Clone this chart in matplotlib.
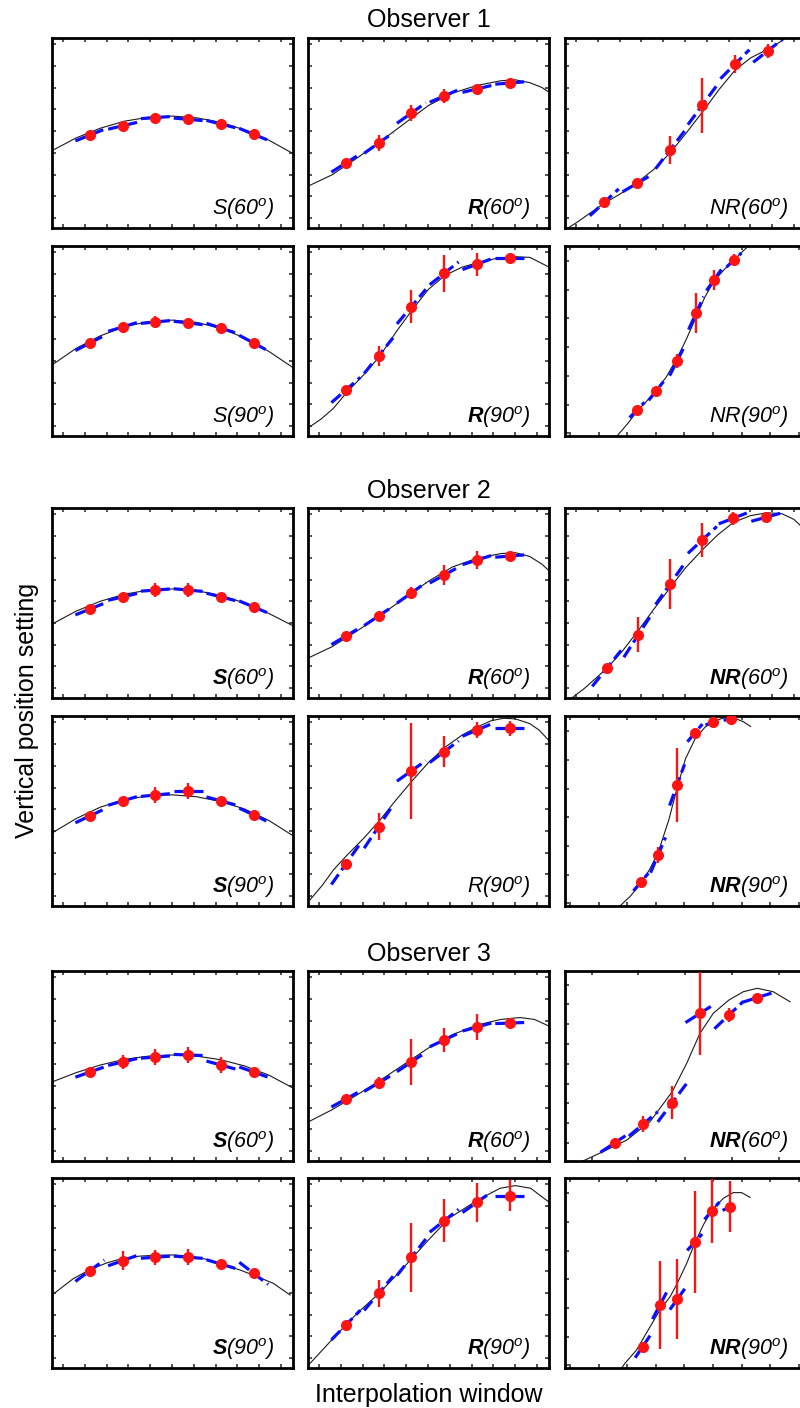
import matplotlib
matplotlib.use("Agg")
import matplotlib.pyplot as plt
import numpy as np

plt.rcParams['font.family'] = ['Liberation Sans', 'DejaVu Sans']
plt.rcParams['mathtext.fontset'] = 'custom'
plt.rcParams['mathtext.rm'] = 'Liberation Sans:italic'
plt.rcParams['mathtext.it'] = 'Liberation Sans:italic'
plt.rcParams['mathtext.sf'] = 'Liberation Sans:italic'
plt.rcParams['mathtext.bf'] = 'Liberation Sans:bold:italic'

# ---------------- data (panel-fraction units) ----------------
OBSERVERS = ["Observer 1", "Observer 2", "Observer 3"]
CONDITIONS = ["S", "R", "NR"]
ANGLES = ["60", "90"]
X_LABEL = "Interpolation window"
Y_LABEL = "Vertical position setting"

X_STD = [0.157, 0.293, 0.429, 0.565, 0.701, 0.837]

# Observer 1
O1_S60_Y = [0.489, 0.538, 0.581, 0.572, 0.547, 0.493]
O1_S60_ERR = [0.01, 0.01, 0.012, 0.01, 0.01, 0.01]
O1_S60_SLOPE = [0.51, 0.30, 0.09, -0.11, -0.32, -0.52]
O1_S60_CURVE = [(0.0, 0.407), (0.1, 0.474), (0.2, 0.525), (0.3, 0.562), (0.4, 0.583), (0.5, 0.589),
                (0.6, 0.580), (0.7, 0.556), (0.8, 0.516), (0.9, 0.462), (1.0, 0.392)]

O1_R60_Y = [0.342, 0.447, 0.605, 0.695, 0.732, 0.763]
O1_R60_ERR = [0.015, 0.042, 0.042, 0.037, 0.016, 0.012]
O1_R60_SLOPE = [0.8, 0.9, 0.9, 0.55, 0.3, 0.1]
O1_R60_CURVE = [(0.0, 0.22), (0.1, 0.28), (0.2, 0.365), (0.3, 0.455), (0.4, 0.55), (0.5, 0.645),
                (0.6, 0.71), (0.7, 0.75), (0.8, 0.775), (0.86, 0.78), (0.92, 0.765), (0.97, 0.74), (1.0, 0.715)]

O1_NR60_X = [0.163, 0.299, 0.436, 0.570, 0.705, 0.841]
O1_NR60_Y = [0.135, 0.235, 0.411, 0.647, 0.862, 0.932]
O1_NR60_ERR = [0.012, 0.012, 0.074, 0.145, 0.046, 0.038]
O1_NR60_SLOPE = [1.18, 0.74, 1.65, 1.72, 1.27, 1.0]
O1_NR60_CURVE = [(0.0, -0.01), (0.05, 0.03), (0.1, 0.075), (0.163, 0.13), (0.23, 0.18), (0.3, 0.24),
                 (0.37, 0.31), (0.436, 0.395), (0.5, 0.495), (0.57, 0.61), (0.64, 0.73), (0.705, 0.83),
                 (0.77, 0.895), (0.84, 0.94), (0.9, 0.985), (0.95, 1.03)]

O1_S90_Y = [0.489, 0.574, 0.600, 0.595, 0.568, 0.489]
O1_S90_ERR = [0.012, 0.012, 0.032, 0.015, 0.012, 0.01]
O1_S90_SLOPE = [0.655, 0.387, 0.12, -0.147, -0.415, -0.68]
O1_S90_CURVE = [(0.0, 0.374), (0.1, 0.461), (0.2, 0.527), (0.3, 0.575), (0.4, 0.602), (0.5, 0.61),
                (0.6, 0.598), (0.7, 0.567), (0.8, 0.516), (0.9, 0.445), (1.0, 0.36)]

O1_R90_Y = [0.242, 0.423, 0.681, 0.856, 0.904, 0.935]
O1_R90_ERR = [0.012, 0.053, 0.088, 0.099, 0.061, 0.026]
O1_R90_SLOPE = [1.11, 1.56, 1.52, 1.0, 0.47, 0.0]
O1_R90_CURVE = [(0.008, 0.049), (0.055, 0.09), (0.105, 0.145), (0.16, 0.228), (0.23, 0.321), (0.296, 0.417),
                (0.368, 0.552), (0.433, 0.665), (0.5, 0.772), (0.568, 0.845), (0.638, 0.888), (0.707, 0.914),
                (0.783, 0.935), (0.852, 0.944), (0.921, 0.94), (0.997, 0.891)]

O1_NR90_X = [0.299, 0.378, 0.465, 0.544, 0.618, 0.701]
O1_NR90_Y = [0.137, 0.237, 0.395, 0.647, 0.821, 0.926]
O1_NR90_ERR = [0.012, 0.021, 0.037, 0.105, 0.053, 0.032]
O1_NR90_SLOPE = [1.3, 1.6, 2.5, 2.8, 1.8, 1.2]
O1_NR90_CURVE = [(0.216, 0.0), (0.26, 0.065), (0.299, 0.13), (0.34, 0.185), (0.378, 0.24), (0.42, 0.31),
                 (0.465, 0.41), (0.5, 0.5), (0.544, 0.625), (0.58, 0.73), (0.618, 0.815), (0.66, 0.875),
                 (0.7, 0.925), (0.74, 0.975), (0.77, 1.01)]

# Observer 2
O2_S60_Y = [0.468, 0.532, 0.568, 0.568, 0.532, 0.479]
O2_S60_ERR = [0.012, 0.018, 0.037, 0.037, 0.015, 0.012]
O2_S60_SLOPE = [0.51, 0.30, 0.094, -0.115, -0.325, -0.53]
O2_S60_CURVE = [(0.0, 0.389), (0.1, 0.457), (0.2, 0.509), (0.3, 0.546), (0.4, 0.568), (0.5, 0.574),
                (0.6, 0.565), (0.7, 0.54), (0.8, 0.5), (0.9, 0.445), (1.0, 0.38)]

O2_R60_Y = [0.326, 0.432, 0.553, 0.647, 0.726, 0.747]
O2_R60_ERR = [0.012, 0.015, 0.032, 0.053, 0.047, 0.026]
O2_R60_SLOPE = [0.75, 0.85, 0.9, 0.7, 0.4, 0.1]
O2_R60_CURVE = [(0.0, 0.21), (0.1, 0.27), (0.2, 0.35), (0.3, 0.435), (0.4, 0.525), (0.5, 0.615),
                (0.6, 0.69), (0.7, 0.735), (0.8, 0.76), (0.86, 0.765), (0.92, 0.745), (0.97, 0.705), (1.0, 0.67)]

O2_NR60_X = [0.173, 0.304, 0.436, 0.570, 0.698, 0.833]
O2_NR60_Y = [0.156, 0.332, 0.600, 0.832, 0.946, 0.951]
O2_NR60_ERR = [0.012, 0.092, 0.132, 0.091, 0.035, 0.012]
O2_NR60_SLOPE = [1.58, 1.96, 1.8, 1.18, 0.49, 0.35]
O2_NR60_CURVE = [(0.0, -0.02), (0.028, 0.0), (0.08, 0.05), (0.173, 0.155), (0.24, 0.25), (0.304, 0.355),
                 (0.37, 0.47), (0.436, 0.58), (0.5, 0.685), (0.57, 0.78), (0.635, 0.86), (0.7, 0.925),
                 (0.77, 0.96), (0.84, 0.975), (0.9, 0.97), (0.95, 0.94), (1.0, 0.88)]

O2_S90_Y = [0.474, 0.553, 0.584, 0.605, 0.553, 0.479]
O2_S90_ERR = [0.012, 0.015, 0.042, 0.042, 0.015, 0.012]
O2_S90_SLOPE = [0.6, 0.38, 0.12, 0.0, -0.35, -0.6]
O2_S90_CURVE = [(0.0, 0.384), (0.1, 0.46), (0.2, 0.52), (0.3, 0.56), (0.4, 0.58), (0.5, 0.585),
                (0.6, 0.575), (0.7, 0.55), (0.8, 0.51), (0.9, 0.45), (1.0, 0.37)]

O2_R90_Y = [0.221, 0.418, 0.711, 0.812, 0.926, 0.935]
O2_R90_ERR = [0.012, 0.07, 0.254, 0.081, 0.042, 0.038]
O2_R90_SLOPE = [1.8, 1.9, 0.9, 0.95, 0.54, 0.0]
O2_R90_CURVE = [(0.008, 0.032), (0.06, 0.11), (0.105, 0.189), (0.16, 0.265), (0.23, 0.355), (0.296, 0.448),
                (0.36, 0.55), (0.433, 0.66), (0.5, 0.755), (0.568, 0.835), (0.64, 0.9), (0.707, 0.945),
                (0.76, 0.975), (0.81, 0.988), (0.86, 0.985), (0.92, 0.96), (0.96, 0.925), (1.0, 0.87)]

O2_NR90_X = [0.315, 0.386, 0.465, 0.539, 0.614, 0.689]
O2_NR90_Y = [0.126, 0.268, 0.637, 0.911, 0.968, 0.984]
O2_NR90_ERR = [0.012, 0.042, 0.195, 0.026, 0.012, 0.01]
O2_NR90_SLOPE = [1.5, 3.0, 3.5, 1.5, 0.5, 0.2]
O2_NR90_CURVE = [(0.228, 0.0), (0.27, 0.05), (0.315, 0.12), (0.35, 0.19), (0.386, 0.28), (0.43, 0.45),
                 (0.465, 0.62), (0.5, 0.775), (0.54, 0.88), (0.58, 0.94), (0.62, 0.975), (0.66, 0.99),
                 (0.7, 0.99), (0.74, 0.97), (0.77, 0.945)]

# Observer 3
O3_S60_Y = [0.468, 0.521, 0.547, 0.558, 0.505, 0.468]
O3_S60_ERR = [0.016, 0.037, 0.042, 0.042, 0.042, 0.021]
O3_S60_SLOPE = [0.45, 0.3, 0.1, -0.05, -0.35, -0.45]
O3_S60_CURVE = [(0.0, 0.416), (0.1, 0.465), (0.2, 0.505), (0.3, 0.535), (0.4, 0.552), (0.5, 0.558),
                (0.6, 0.552), (0.7, 0.533), (0.8, 0.5), (0.9, 0.452), (1.0, 0.384)]

O3_R60_Y = [0.326, 0.411, 0.521, 0.637, 0.705, 0.726]
O3_R60_ERR = [0.016, 0.032, 0.121, 0.063, 0.068, 0.026]
O3_R60_SLOPE = [0.7, 0.75, 0.85, 0.6, 0.35, 0.05]
O3_R60_CURVE = [(0.0, 0.205), (0.1, 0.27), (0.2, 0.345), (0.3, 0.425), (0.4, 0.51), (0.5, 0.595),
                (0.6, 0.665), (0.7, 0.715), (0.8, 0.745), (0.88, 0.755), (0.94, 0.745), (1.0, 0.71)]

O3_NR60_X = [0.207, 0.325, 0.445, 0.560, 0.680, 0.798]
O3_NR60_Y = [0.096, 0.195, 0.307, 0.777, 0.768, 0.860]
O3_NR60_ERR = [0.012, 0.041, 0.088, 0.219, 0.035, 0.012]
O3_NR60_SLOPE = [0.84, 1.07, 1.69, 0.81, 1.2, 0.4]
O3_NR60_CURVE = [(0.05, -0.01), (0.083, 0.005), (0.159, 0.05), (0.256, 0.11), (0.353, 0.207),
                 (0.445, 0.365), (0.505, 0.514), (0.56, 0.672), (0.615, 0.777), (0.68, 0.847),
                 (0.74, 0.891), (0.798, 0.909), (0.864, 0.891), (0.934, 0.838)]

O3_S90_Y = [0.512, 0.565, 0.583, 0.583, 0.547, 0.498]
O3_S90_ERR = [0.025, 0.05, 0.04, 0.041, 0.02, 0.018]
O3_S90_SLOPE = [0.94, 0.45, 0.09, -0.1, -0.38, -0.97]
O3_S90_CURVE = [(0.0, 0.384), (0.088, 0.47), (0.155, 0.516), (0.227, 0.553), (0.293, 0.577),
                (0.365, 0.589), (0.427, 0.593), (0.503, 0.595), (0.566, 0.589), (0.642, 0.572),
                (0.7, 0.547), (0.78, 0.516), (0.835, 0.489), (0.918, 0.446), (0.988, 0.384)]

O3_R90_Y = [0.226, 0.393, 0.583, 0.775, 0.872, 0.907]
O3_R90_ERR = [0.012, 0.072, 0.182, 0.112, 0.103, 0.083]
O3_R90_SLOPE = [1.3, 1.5, 1.6, 1.0, 0.9, 0.0]
O3_R90_CURVE = [(0.009, 0.025), (0.098, 0.147), (0.204, 0.288), (0.295, 0.393), (0.394, 0.525),
                (0.5, 0.674), (0.585, 0.788), (0.704, 0.884), (0.797, 0.946), (0.86, 0.96),
                (0.924, 0.946), (0.998, 0.875)]

O3_NR90_X = [0.322, 0.394, 0.466, 0.538, 0.610, 0.685]
O3_NR90_Y = [0.112, 0.332, 0.362, 0.662, 0.828, 0.849]
O3_NR90_ERR = [0.012, 0.232, 0.211, 0.267, 0.169, 0.134]
O3_NR90_SLOPE = [1.88, 2.4, 1.77, 1.4, 1.48, 0.63]
O3_NR90_CURVE = [(0.23, -0.01), (0.249, 0.025), (0.297, 0.095), (0.353, 0.217), (0.394, 0.305),
                 (0.436, 0.375), (0.466, 0.446), (0.505, 0.551), (0.538, 0.656), (0.574, 0.753),
                 (0.61, 0.832), (0.657, 0.893), (0.698, 0.923), (0.733, 0.923), (0.768, 0.898)]

# which condition letters are printed in bold (per observer, order S60 R60 NR60 S90 R90 NR90)
O1_BOLD = [False, True, False, False, True, False]
O2_BOLD = [True, True, True, True, False, True]
O3_BOLD = [True, True, True, True, True, True]

# ---------------- assemble tables ----------------
PANEL_DATA = {
    (0, 0, 0): (X_STD, O1_S60_Y, O1_S60_ERR, O1_S60_SLOPE, O1_S60_CURVE),
    (0, 0, 1): (X_STD, O1_R60_Y, O1_R60_ERR, O1_R60_SLOPE, O1_R60_CURVE),
    (0, 0, 2): (O1_NR60_X, O1_NR60_Y, O1_NR60_ERR, O1_NR60_SLOPE, O1_NR60_CURVE),
    (0, 1, 0): (X_STD, O1_S90_Y, O1_S90_ERR, O1_S90_SLOPE, O1_S90_CURVE),
    (0, 1, 1): (X_STD, O1_R90_Y, O1_R90_ERR, O1_R90_SLOPE, O1_R90_CURVE),
    (0, 1, 2): (O1_NR90_X, O1_NR90_Y, O1_NR90_ERR, O1_NR90_SLOPE, O1_NR90_CURVE),
    (1, 0, 0): (X_STD, O2_S60_Y, O2_S60_ERR, O2_S60_SLOPE, O2_S60_CURVE),
    (1, 0, 1): (X_STD, O2_R60_Y, O2_R60_ERR, O2_R60_SLOPE, O2_R60_CURVE),
    (1, 0, 2): (O2_NR60_X, O2_NR60_Y, O2_NR60_ERR, O2_NR60_SLOPE, O2_NR60_CURVE),
    (1, 1, 0): (X_STD, O2_S90_Y, O2_S90_ERR, O2_S90_SLOPE, O2_S90_CURVE),
    (1, 1, 1): (X_STD, O2_R90_Y, O2_R90_ERR, O2_R90_SLOPE, O2_R90_CURVE),
    (1, 1, 2): (O2_NR90_X, O2_NR90_Y, O2_NR90_ERR, O2_NR90_SLOPE, O2_NR90_CURVE),
    (2, 0, 0): (X_STD, O3_S60_Y, O3_S60_ERR, O3_S60_SLOPE, O3_S60_CURVE),
    (2, 0, 1): (X_STD, O3_R60_Y, O3_R60_ERR, O3_R60_SLOPE, O3_R60_CURVE),
    (2, 0, 2): (O3_NR60_X, O3_NR60_Y, O3_NR60_ERR, O3_NR60_SLOPE, O3_NR60_CURVE),
    (2, 1, 0): (X_STD, O3_S90_Y, O3_S90_ERR, O3_S90_SLOPE, O3_S90_CURVE),
    (2, 1, 1): (X_STD, O3_R90_Y, O3_R90_ERR, O3_R90_SLOPE, O3_R90_CURVE),
    (2, 1, 2): (O3_NR90_X, O3_NR90_Y, O3_NR90_ERR, O3_NR90_SLOPE, O3_NR90_CURVE),
}
BOLD = [O1_BOLD, O2_BOLD, O3_BOLD]

# ---------------- layout (pixels of the 800x1408 canvas) ----------------
W, H = 800, 1408
COL_LEFT = [52, 308, 565]
ROW_TOP = [[38, 246], [508, 716], [971, 1178]]
PW, PH = 241, 190
TITLE_BASE = [27, 498, 961]

fig = plt.figure(figsize=(W / 100, H / 100), dpi=100)

def ticks_px(start, step, stop, size):
    return list(np.arange(start, stop, step) / size)

def tick_layout(obs, ang, col):
    if col == 2 and ang == 1:
        return ticks_px(5, 28.6, 241, PW), ticks_px(2.7, 28.7, 190, PH)
    if col == 2 and obs == 2 and ang == 0:
        return ticks_px(26.7, 46.7, 241, PW), ticks_px(18, 19.8, 190, PH)
    return ticks_px(11, 21.8, 241, PW), ticks_px(10, 21.7, 190, PH)

for obs in range(3):
    fig.text(429 / W, 1 - TITLE_BASE[obs] / H, OBSERVERS[obs], ha='center', va='baseline', fontsize=18)
    for ang in range(2):
        for col in range(3):
            top = ROW_TOP[obs][ang]
            ax = fig.add_axes([COL_LEFT[col] / W, 1 - (top + PH) / H, PW / W, PH / H])
            x, y, err, slope, curve = PANEL_DATA[(obs, ang, col)]
            hw = 0.031 if (col == 2 and ang == 1) else 0.06
            cx = [p[0] for p in curve]
            cy = [p[1] for p in curve]
            ax.plot(cx, cy, color='#1a1a1a', lw=0.8, zorder=1)
            for xi, yi, si in zip(x, y, slope):
                ax.plot([xi - hw, xi + hw], [yi - si * hw, yi + si * hw], color='#0a10ff',
                        lw=2.3, ls=(0, (3.9, 1.6)), zorder=2, dash_capstyle='butt')
            ax.errorbar(x, y, yerr=err, fmt='o', color='#ff1414', ms=8, mec='none',
                        elinewidth=1.7, capsize=0, zorder=3)
            ax.set_xlim(0, 1)
            ax.set_ylim(0, 1)
            xt, yt = tick_layout(obs, ang, col)
            ax.set_xticks(xt)
            ax.set_yticks(yt)
            ax.tick_params(direction='in', length=3, width=1.1, top=True, right=True,
                           labelbottom=False, labelleft=False, color='#222222')
            for s in ax.spines.values():
                s.set_linewidth(2.0)
            cond = CONDITIONS[col]
            if BOLD[obs][ang * 3 + col]:
                lab = r"$\mathbf{%s}\mathrm{(%s^{o})}$" % (cond, ANGLES[ang])
            else:
                lab = r"$\mathrm{%s(%s^{o})}$" % (cond, ANGLES[ang])
            ax.text(0.925, 0.068, lab, transform=ax.transAxes, ha='right', va='baseline', fontsize=15.5)

fig.text(429 / W, 1 - 1402 / H, X_LABEL, ha='center', va='baseline', fontsize=18)
fig.text(27 / W, 1 - 710 / H, Y_LABEL, ha='center', va='center', rotation=90, fontsize=18)

fig.savefig("out.png", dpi=100)
